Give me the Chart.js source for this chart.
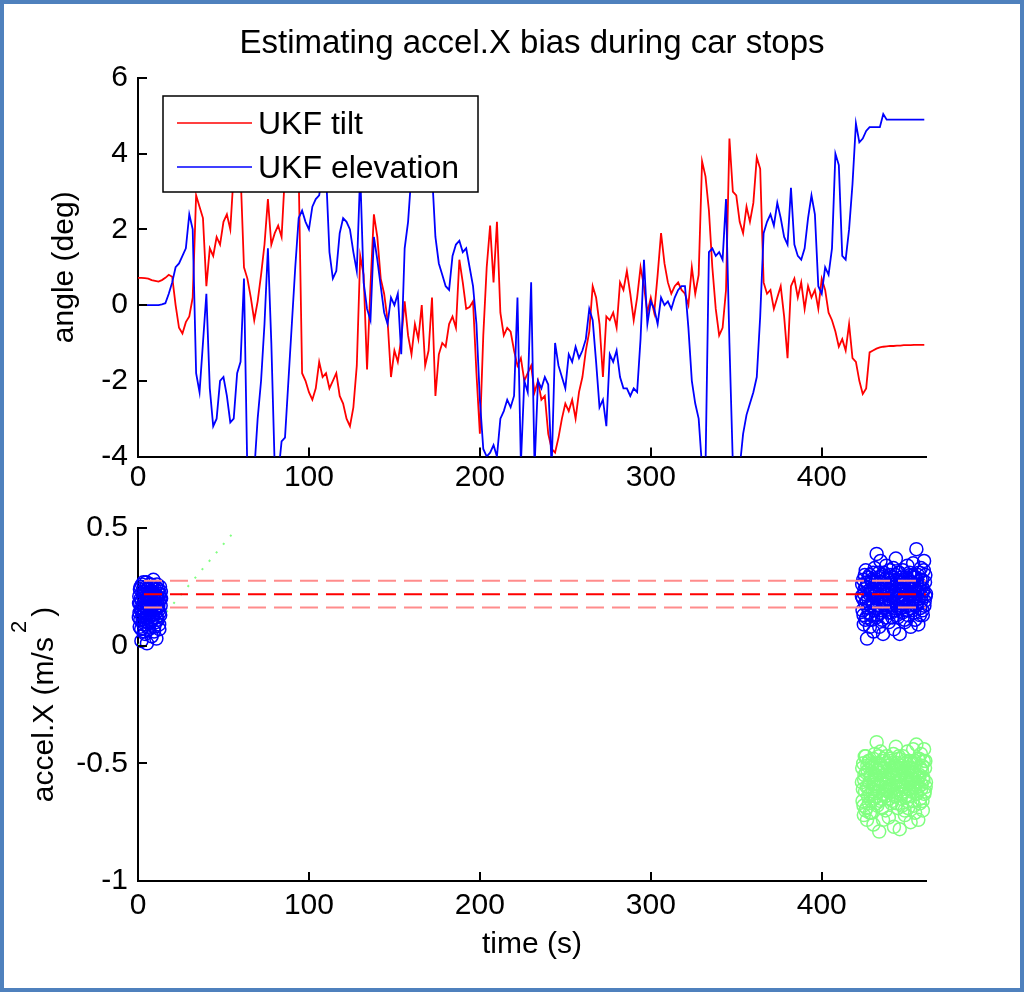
<!DOCTYPE html>
<html>
<head>
<meta charset="utf-8">
<script src="https://cdn.jsdelivr.net/npm/chart.js@4.4.1/dist/chart.umd.min.js"></script>
<style>
	body { margin: 0; background: #fff; }
	#hoja { position: relative; width: 1024px; height: 992px; overflow: hidden; background: #fff; }
	canvas { position: absolute; left: 0; }
	#arriba { top: 0; }
	#abajo { top: 500px; }
	#marco { position: absolute; left: 0; top: 0; width: 1024px; height: 992px; box-sizing: border-box; border: 4px solid #4f81bd; pointer-events: none; }
</style>
</head>
<body>
<div id="hoja">
	<canvas id="arriba" width="1024" height="500"></canvas>
	<canvas id="abajo" width="1024" height="492"></canvas>
	<div id="marco"></div>
</div>
<script>
	// salida del UKF, un valor cada 2 s desde 0 hasta 460 s
	const pasoTiempo = 2
	const tilt = [
		0.72,0.72,0.71,0.70,0.66,0.64,0.62,0.66,0.72,0.80,
		0.75,0.0,-0.6,-0.75,-0.45,-0.3,0.2,2.9,2.6,2.3,
		0.5,1.5,1.3,1.8,1.6,2.2,2.4,2.0,3.5,3.5,
		3.5,1.0,0.7,0.2,-0.4,0.1,0.8,1.6,2.8,1.6,
		1.9,2.1,1.8,3.5,3.5,3.5,3.5,3.5,-1.8,-2.0,
		-2.3,-2.5,-2.2,-1.5,-1.9,-1.8,-2.2,-2.0,-1.8,-2.4,
		-2.6,-3.0,-3.2,-2.7,-1.6,1.3,0.8,-1.7,0.5,2.4,
		1.8,0.7,0.3,-0.4,-1.9,-1.2,-1.5,-0.9,0.1,-0.8,
		-1.3,-0.5,-0.9,0.0,-1.6,-1.2,0.2,-2.4,-1.3,-1.0,
		-1.1,-0.5,-0.3,-0.6,1.2,0.6,-0.1,-0.05,0.1,-1.8,
		-3.4,-0.8,1.0,2.1,0.6,2.2,-0.2,-0.8,-0.6,-0.7,
		-1.2,-1.6,-1.4,-2.0,-1.8,-1.6,-2.3,-2.0,-2.5,-2.4,
		-3.4,-3.8,-3.9,-3.5,-3.0,-2.6,-2.8,-2.5,-3.0,-2.3,
		-1.9,-1.2,-0.7,0.5,0.2,-0.5,-1.9,-0.3,-0.4,-0.2,
		-0.6,0.6,0.4,0.9,0.3,-0.4,0.2,1.0,0.5,-0.2,
		0.2,-0.2,0.8,1.9,1.1,0.6,0.3,0.5,0.6,0.4,
		0.3,0.0,1.0,0.3,0.8,3.8,3.4,2.5,1.0,-0.1,
		-0.8,-0.6,0.4,4.4,3.0,2.9,2.2,1.9,2.6,2.2,
		2.7,3.9,3.6,0.6,0.3,0.4,-0.1,0.2,0.5,-0.3,
		-1.4,0.5,0.7,0.2,0.6,-0.1,0.5,0.2,0.4,-0.1,
		0.7,0.4,-0.2,-0.4,-0.7,-1.1,-0.9,-1.2,-0.5,-1.4,
		-1.5,-2.0,-2.35,-2.2,-1.25,-1.2,-1.15,-1.12,-1.1,-1.09,
		-1.08,-1.08,-1.07,-1.07,-1.06,-1.06,-1.06,-1.05,-1.05,-1.05,
		-1.05
	]
	const elevation = [
		0,0,0,0,0,0,0,0.02,0.05,0.3,
		0.6,1.0,1.1,1.3,1.5,2.4,2.0,-1.8,-2.3,-1.0,
		0.3,-2.2,-3.2,-3.0,-2.0,-1.9,-2.4,-3.1,-3.0,-1.8,
		-1.5,0.7,-4.5,-4.5,-4.4,-3.0,-2.0,-0.5,1.5,-1.0,
		-4.3,-4.5,-3.6,-3.5,-2.0,-0.5,1.0,2.3,2.5,2.2,
		2.0,2.6,2.8,2.9,3.5,3.5,1.4,0.7,0.9,1.9,
		2.3,2.2,2.0,1.4,0.9,3.5,0.6,-0.1,-0.4,1.8,
		1.2,0.5,-0.2,-0.5,0.2,0.0,0.3,-1.3,1.5,2.2,
		3.5,3.5,3.5,3.5,3.5,3.5,3.5,1.8,1.1,0.8,
		0.5,0.4,1.3,1.6,1.7,1.4,1.5,1.0,0.5,-0.5,
		-2.5,-3.8,-4.0,-3.9,-3.7,-4.0,-3.0,-2.8,-2.5,-2.7,
		-2.4,0.2,-4.2,-2.0,-2.3,0.6,-4.3,-2.0,-2.2,-1.9,
		-2.1,-4.3,-1.0,-1.6,-1.9,-2.2,-1.3,-1.5,-1.1,-1.4,
		-1.2,-0.9,-0.1,-0.4,-1.5,-2.7,-2.5,-3.2,-1.3,-1.5,
		-1.2,-1.9,-2.2,-2.2,-2.4,-2.2,-2.3,-0.9,1.2,-0.5,
		0.1,-0.1,-0.5,0.2,0.0,0.1,-0.1,0.2,0.4,0.5,
		0.5,-0.6,-2.0,-2.6,-3.0,-4.3,-4.3,1.4,1.5,1.3,
		1.4,1.2,2.8,-1.0,-4.2,-4.3,-4.3,-3.4,-2.9,-2.6,
		-2.3,-1.9,-0.3,1.9,2.2,2.4,2.1,2.7,2.3,1.8,
		1.6,3.1,1.6,1.3,1.2,1.5,2.3,2.9,2.4,0.5,
		0.3,1.0,0.8,1.5,4.0,3.7,1.3,1.2,2.0,3.2,
		4.8,4.3,4.4,4.6,4.7,4.7,4.7,4.7,5.05,4.9,
		4.9,4.9,4.9,4.9,4.9,4.9,4.9,4.9,4.9,4.9,
		4.9
	]

	// accel.X medido en la primera parada (auto quieto al inicio)
	const parada1Inicio = 0.5
	const parada1Paso = 0.125
	const accelParada1 = [
		0.12,0.18,0.21,0.14,0.08,0.24,0.18,0.11,0.25,0.2,
		0.15,0.07,0.02,0.16,0.19,0.26,0.23,0.13,0.11,0.21,
		0.17,0.09,0.27,0.2,0.06,0.15,0.14,0.23,0.22,0.05,
		0.19,0.12,0.09,0.18,0.25,0.27,0.16,0.1,0.01,0.14,
		0.2,0.24,0.13,0.17,0.24,0.08,0.18,0.22,0.07,0.12,
		0.21,0.19,0.15,0.26,0.26,0.2,0.1,0.16,0.19,0.23,
		0.04,0.11,0.23,0.25,0.17,0.13,0.12,0.21,0.28,0.18,
		0.2,0.06,0.08,0.15,0.16,0.24,0.22,0.19,0.14,0.1,
		0.25,0.21,0.03,0.12,0.18,0.26,0.21,0.16,0.11,0.2,
		0.24,0.17,0.15,0.22,0.19,0.09,0.07,0.14,0.22,0.25,
		0.13,0.2,0.17,0.23,0.2
	]

	// segunda parada (al final del recorrido): medido y corregido
	const parada2Inicio = 423.5
	const parada2Paso = 0.1875
	const accelParada2 = [
		0.21,0.26,0.15,0.2,0.28,0.13,0.09,0.22,0.24,0.3,0.18,0.11,0.32,0.25,0.12,0.19,0.03,0.27,0.26,0.16,
		0.2,0.29,0.14,0.22,0.3,0.08,0.17,0.24,0.23,0.13,0.11,0.28,0.27,0.18,0.19,0.31,0.06,0.21,0.25,0.15,
		0.33,0.24,0.16,0.27,0.22,0.12,0.39,0.2,0.13,0.26,0.29,0.17,0.2,0.31,0.08,0.23,0.24,0.14,0.36,0.27,
		0.15,0.21,0.27,0.11,0.21,0.3,0.05,0.19,0.31,0.25,0.18,0.28,0.25,0.16,0.12,0.22,0.34,0.19,0.22,0.29,
		0.17,0.24,0.28,0.14,0.1,0.2,0.24,0.32,0.3,0.17,0.19,0.25,0.14,0.29,0.26,0.12,0.21,0.23,0.33,0.18,
		0.07,0.26,0.23,0.15,0.16,0.3,0.37,0.22,0.28,0.13,0.2,0.27,0.12,0.19,0.25,0.31,0.31,0.21,0.05,0.24,
		0.22,0.16,0.18,0.29,0.27,0.2,0.14,0.24,0.32,0.18,0.2,0.26,0.24,0.11,0.1,0.28,0.29,0.2,0.17,0.23,
		0.23,0.15,0.34,0.27,0.13,0.22,0.26,0.17,0.19,0.31,0.3,0.21,0.08,0.16,0.22,0.25,0.27,0.19,0.15,0.3,
		0.35,0.23,0.2,0.14,0.25,0.29,0.11,0.21,0.29,0.17,0.41,0.26,0.18,0.22,0.23,0.3,0.09,0.2,0.31,0.24,
		0.26,0.13,0.16,0.28,0.33,0.19,0.21,0.25,0.28,0.15,0.13,0.23,0.24,0.32,0.36,0.17,0.19,0.27,0.3,0.21,
		0.22
	]
	const accelParada2Corr = [
		-0.58,-0.52,-0.66,-0.61,-0.5,-0.68,-0.72,-0.57,-0.55,-0.47,-0.62,-0.7,-0.47,-0.54,-0.69,-0.6,-0.74,-0.51,-0.53,-0.64,
		-0.6,-0.49,-0.67,-0.58,-0.49,-0.71,-0.63,-0.55,-0.56,-0.66,-0.71,-0.5,-0.52,-0.62,-0.61,-0.48,-0.76,-0.59,-0.57,-0.65,
		-0.46,-0.55,-0.64,-0.52,-0.55,-0.67,-0.41,-0.6,-0.68,-0.53,-0.5,-0.62,-0.59,-0.47,-0.79,-0.57,-0.54,-0.66,-0.45,-0.51,
		-0.65,-0.58,-0.52,-0.69,-0.6,-0.49,-0.74,-0.63,-0.48,-0.55,-0.63,-0.52,-0.56,-0.64,-0.7,-0.59,-0.47,-0.61,-0.58,-0.5,
		-0.62,-0.56,-0.51,-0.65,-0.73,-0.6,-0.57,-0.48,-0.49,-0.62,-0.6,-0.54,-0.67,-0.5,-0.53,-0.66,-0.59,-0.55,-0.46,-0.63,
		-0.77,-0.52,-0.56,-0.64,-0.64,-0.51,-0.43,-0.58,-0.52,-0.67,-0.6,-0.5,-0.69,-0.61,-0.55,-0.47,-0.48,-0.57,-0.78,-0.55,
		-0.58,-0.65,-0.63,-0.51,-0.52,-0.59,-0.68,-0.54,-0.47,-0.62,-0.6,-0.53,-0.55,-0.7,-0.72,-0.49,-0.5,-0.6,-0.64,-0.56,
		-0.57,-0.66,-0.45,-0.52,-0.69,-0.58,-0.53,-0.64,-0.61,-0.5,-0.49,-0.57,-0.75,-0.62,-0.58,-0.54,-0.52,-0.6,-0.66,-0.5,
		-0.44,-0.57,-0.6,-0.68,-0.54,-0.49,-0.71,-0.59,-0.5,-0.63,-0.42,-0.55,-0.63,-0.58,-0.56,-0.48,-0.74,-0.6,-0.48,-0.56,
		-0.55,-0.67,-0.65,-0.52,-0.46,-0.61,-0.59,-0.53,-0.51,-0.66,-0.7,-0.56,-0.57,-0.49,-0.44,-0.63,-0.62,-0.52,-0.49,-0.6,
		-0.58
	]

	// sesgo estimado (media y banda) y la recta punteada verde
	const biasTiempo = [3.5, 461]
	const biasMedia = 0.218
	const biasSup = 0.276
	const biasInf = 0.162
	const rectaTiempo = [0, 58]
	const rectaValor = [0, 0.5]

	// marcas de los ejes
	const ticksTiempo = [0, 100, 200, 300, 400]
	const ticksAngulo = [-4, -2, 0, 2, 4, 6]
	const ticksAccel = [-1, -0.5, 0, 0.5]

	const familia = "'Liberation Sans', Arial, sans-serif"
	Chart.defaults.font.family = familia
	Chart.defaults.color = '#000'

	// arma los puntos {x,y} a partir del inicio, el paso y los valores
	function puntos(inicio, paso, valores) {
		return valores.map((v, i) => ({ x: inicio + i * paso, y: v }))
	}

	function horizontal(tiempos, valor) {
		return tiempos.map(t => ({ x: t, y: valor }))
	}

	// marcas cortas hacia adentro, como en matlab
	const marcas = {
		id: 'marcas',
		afterDraw(chart, args, o) {
			const { ctx, chartArea, scales } = chart
			ctx.save()
			ctx.strokeStyle = '#000'
			ctx.lineWidth = 2
			ctx.beginPath()
			scales.x.ticks.forEach(t => {
				const px = Math.round(scales.x.getPixelForValue(t.value))
				ctx.moveTo(px, chartArea.bottom)
				ctx.lineTo(px, chartArea.bottom - o.largo)
			})
			scales.y.ticks.forEach(t => {
				const py = Math.round(scales.y.getPixelForValue(t.value))
				ctx.moveTo(chartArea.left, py)
				ctx.lineTo(chartArea.left + o.largo, py)
			})
			ctx.stroke()
			ctx.restore()
		}
	}

	// leyenda con fondo blanco dentro del area del grafico
	const leyenda = {
		id: 'leyendaAdentro',
		afterDatasetsDraw(chart, args, o) {
			const ctx = chart.ctx
			ctx.save()
			ctx.fillStyle = '#fff'
			ctx.fillRect(o.x, o.y, o.w, o.h)
			ctx.strokeStyle = '#000'
			ctx.lineWidth = 1.5
			ctx.strokeRect(o.x, o.y, o.w, o.h)
			ctx.font = o.size + 'px ' + familia
			ctx.textBaseline = 'alphabetic'
			chart.data.datasets.forEach((ds, i) => {
				const y = o.y + o.primera + i * o.salto
				ctx.strokeStyle = ds.borderColor
				ctx.lineWidth = 1.5
				ctx.beginPath()
				ctx.moveTo(o.x + 14, y)
				ctx.lineTo(o.x + 89, y)
				ctx.stroke()
				ctx.fillStyle = '#000'
				ctx.fillText(ds.label, o.x + 95, y + o.base)
			})
			ctx.restore()
		}
	}

	// titulo del eje y con el exponente levantado
	const etiquetaY = {
		id: 'etiquetaY',
		afterDraw(chart, args, o) {
			const { ctx, chartArea } = chart
			const cy = (chartArea.top + chartArea.bottom) / 2
			ctx.save()
			ctx.translate(o.x, cy)
			ctx.rotate(-Math.PI / 2)
			ctx.fillStyle = '#000'
			ctx.textBaseline = 'middle'
			ctx.textAlign = 'left'
			const fBase = o.size + 'px ' + familia
			const fSup = o.sizeSup + 'px ' + familia
			ctx.font = fBase
			const w1 = ctx.measureText(o.texto).width
			const w3 = ctx.measureText(o.cierre).width
			ctx.font = fSup
			const w2 = ctx.measureText(o.sup).width
			let x = -(w1 + o.gap + w2 + o.gap + w3) / 2
			ctx.font = fBase
			ctx.fillText(o.texto, x, 0)
			x += w1 + o.gap
			ctx.font = fSup
			ctx.fillText(o.sup, x, o.subida)
			x += w2 + o.gap
			ctx.font = fBase
			ctx.fillText(o.cierre, x, 0)
			ctx.restore()
		}
	}

	function ejeX(ticks, alto, padding, titulo) {
		return {
			type: 'linear', min: 0, max: 461,
			grid: { display: false, drawTicks: false },
			border: { display: true, color: '#000', width: 2 },
			ticks: { font: { size: 30 }, color: '#000', padding: padding, maxRotation: 0, autoSkip: false, includeBounds: false, callback: v => String(v) },
			afterBuildTicks: s => { s.ticks = ticks.map(v => ({ value: v })) },
			afterFit: s => { s.height = alto },
			title: titulo
		}
	}

	function ejeY(min, max, ticks, titulo) {
		return {
			min: min, max: max,
			grid: { display: false, drawTicks: false },
			border: { display: true, color: '#000', width: 2 },
			ticks: { font: { size: 30 }, color: '#000', padding: 10, autoSkip: false, includeBounds: false, callback: v => String(v) },
			afterBuildTicks: s => { s.ticks = ticks.map(v => ({ value: v })) },
			afterFit: s => { s.width = 138 },
			title: titulo
		}
	}

	// grafico de arriba: angulos del filtro
	let graficoAngulos = new Chart(document.querySelector('#arriba'), {
		type: 'line',
		data: {
			datasets: [
				{ label: 'UKF tilt', data: puntos(0, pasoTiempo, tilt), borderColor: '#ff0000', borderWidth: 1.8, pointRadius: 0, order: 1 },
				{ label: 'UKF elevation', data: puntos(0, pasoTiempo, elevation), borderColor: '#0000ff', borderWidth: 1.8, pointRadius: 0, order: 0 }
			]
		},
		options: {
			responsive: false,
			devicePixelRatio: 1,
			animation: false,
			events: [],
			layout: { padding: { left: 0, right: 98, top: 0, bottom: 0 } },
			plugins: {
				legend: { display: false },
				tooltip: { enabled: false },
				title: {
					display: true, fullSize: false, color: '#000',
					text: 'Estimating accel.X bias during car stops',
					font: { size: 33, weight: 'normal' },
					padding: { top: 24, bottom: 14.4 }
				},
				marcas: { largo: 9 },
				leyendaAdentro: { x: 163, y: 96, w: 315, h: 96, size: 32, primera: 27, salto: 44, base: 10.5 }
			},
			scales: {
				x: ejeX(ticksTiempo, 43.5, 3, { display: false }),
				y: ejeY(-4, 6, ticksAngulo, { display: true, text: 'angle (deg)', color: '#000', font: { size: 30 }, padding: { top: 47, bottom: 0 } })
			}
		},
		plugins: [leyenda, marcas]
	})

	// grafico de abajo: accel.X en las paradas
	let graficoAccel = new Chart(document.querySelector('#abajo'), {
		type: 'scatter',
		data: {
			datasets: [
				{ label: 'bias', data: horizontal(biasTiempo, biasMedia), showLine: true, borderColor: '#ff0000', borderWidth: 2, borderDash: [18, 8], pointRadius: 0 },
				{ label: 'bias +', data: horizontal(biasTiempo, biasSup), showLine: true, borderColor: '#ff8c8c', borderWidth: 2, borderDash: [18, 8], pointRadius: 0 },
				{ label: 'bias -', data: horizontal(biasTiempo, biasInf), showLine: true, borderColor: '#ff8c8c', borderWidth: 2, borderDash: [18, 8], pointRadius: 0 },
				{ label: 'corregida', data: puntos(parada2Inicio, parada2Paso, accelParada2Corr), pointStyle: 'circle', pointRadius: 6.5, pointBorderWidth: 1.5, pointBorderColor: '#80ff80', pointBackgroundColor: 'rgba(0,0,0,0)', clip: false },
				{ label: 'parada 2', data: puntos(parada2Inicio, parada2Paso, accelParada2), pointStyle: 'circle', pointRadius: 6.5, pointBorderWidth: 1.5, pointBorderColor: '#0000ff', pointBackgroundColor: 'rgba(0,0,0,0)', clip: false },
				{ label: 'parada 1', data: puntos(parada1Inicio, parada1Paso, accelParada1), pointStyle: 'circle', pointRadius: 6.5, pointBorderWidth: 1.5, pointBorderColor: '#0000ff', pointBackgroundColor: 'rgba(0,0,0,0)', clip: false },
				{ label: 'recta', data: rectaTiempo.map((t, i) => ({ x: t, y: rectaValor[i] })), showLine: true, borderColor: '#80ff80', borderWidth: 2, borderDash: [2, 9], pointRadius: 0 }
			]
		},
		options: {
			responsive: false,
			devicePixelRatio: 1,
			animation: false,
			events: [],
			layout: { padding: { left: 0, right: 98, top: 23, bottom: 0 } },
			plugins: {
				legend: { display: false },
				tooltip: { enabled: false },
				marcas: { largo: 9 },
				etiquetaY: { x: 45, size: 30, sizeSup: 22, texto: 'accel.X (m/s', sup: '2', cierre: ')', gap: 4, subida: -25 }
			},
			scales: {
				x: ejeX(ticksTiempo, 111, 7, { display: true, text: 'time (s)', color: '#000', font: { size: 30 }, padding: { top: 0, bottom: 29 } }),
				y: ejeY(-1, 0.5, ticksAccel, { display: false })
			}
		},
		plugins: [marcas, etiquetaY]
	})
</script>
</body>
</html>
